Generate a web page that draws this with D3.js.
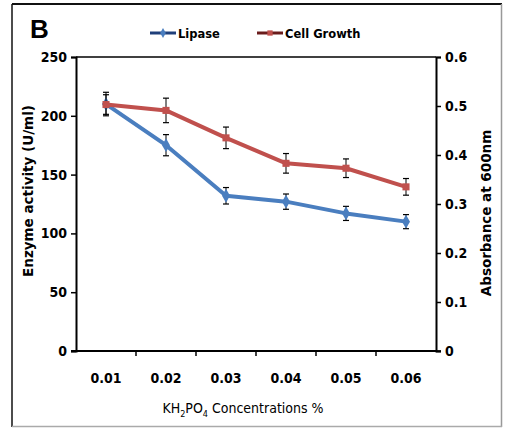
<!DOCTYPE html>
<html>
<head>
<meta charset="utf-8">
<script src="https://cdn.jsdelivr.net/npm/d3@7"></script>
<style>
  body { margin: 0; background: white; }
</style>
</head>
<body>
<div id="container"></div>
<script>
let w = 505;
let h = 428;

// DATA
let concentrations = ["0.01", "0.02", "0.03", "0.04", "0.05", "0.06"];
let lipase = [210, 175, 132, 127, 117, 110];
let lipaseErr = [10, 9, 7, 6.5, 6, 6];
let growth = [0.503, 0.491, 0.435, 0.383, 0.373, 0.335];
let growthErr = [0.02, 0.025, 0.022, 0.02, 0.019, 0.017];
let leftTicks = [0, 50, 100, 150, 200, 250];
let rightTicks = [0, 0.1, 0.2, 0.3, 0.4, 0.5, 0.6];

let m = {left: 76, right: 436, top: 57, bottom: 351};
let tickFont = "'DejaVu Sans Condensed', 'Liberation Sans Narrow', 'Liberation Sans', sans-serif";
let titleFont = "'DejaVu Sans', Verdana, sans-serif";

let viz = d3.select("#container").append("svg")
    .attr("width", w)
    .attr("height", h)
    .style("display", "block");

// frame
viz.append("line").attr("x1", 12).attr("x2", 502).attr("y1", 4).attr("y2", 4).attr("stroke", "#111").attr("stroke-width", 2);
viz.append("line").attr("x1", 12).attr("x2", 12).attr("y1", 4).attr("y2", 427).attr("stroke", "#111").attr("stroke-width", 1.5);
viz.append("line").attr("x1", 501.5).attr("x2", 501.5).attr("y1", 4).attr("y2", 427).attr("stroke", "#999").attr("stroke-width", 1.5);
viz.append("line").attr("x1", 12).attr("x2", 502).attr("y1", 426.5).attr("y2", 426.5).attr("stroke", "#aaa").attr("stroke-width", 1.5);

// SCALES
let x = d3.scaleBand().domain(concentrations).range([m.left, m.right]);
let yL = d3.scaleLinear().domain([0, 250]).range([m.bottom, m.top]);
let yR = d3.scaleLinear().domain([0, 0.6]).range([m.bottom, m.top]);
let cx = d => x(d) + x.bandwidth() / 2;

// plot top border
viz.append("line").attr("x1", m.left).attr("x2", m.right).attr("y1", m.top).attr("y2", m.top).attr("stroke", "black").attr("stroke-width", 1.5);

// AXES
let leftAxis = viz.append("g").attr("transform", `translate(${m.left},0)`)
    .call(d3.axisLeft(yL).tickValues(leftTicks).tickSize(5).tickPadding(4));
let rightAxis = viz.append("g").attr("transform", `translate(${m.right},0)`)
    .call(d3.axisRight(yR).tickValues(rightTicks).tickSize(5).tickPadding(4).tickFormat(d => d === 0 ? "0" : d3.format(".1f")(d)));
let bottomAxis = viz.append("g").attr("transform", `translate(0,${m.bottom})`)
    .call(d3.axisBottom(x).tickSize(0).tickPadding(22));
// boundary ticks on x
bottomAxis.selectAll(".bound").data(concentrations.slice(1)).enter()
    .append("line").attr("class", "bound")
    .attr("x1", d => x(d)).attr("x2", d => x(d)).attr("y1", 0).attr("y2", 5)
    .attr("stroke", "black").attr("stroke-width", 1.5);
bottomAxis.append("line").attr("x1", m.right).attr("x2", m.right + 5).attr("y1", 0).attr("y2", 0).attr("stroke", "black").attr("stroke-width", 1.5);

[leftAxis, rightAxis, bottomAxis].forEach(g => {
  g.select(".domain").attr("stroke-width", 2).attr("stroke", "black");
  g.selectAll(".tick line").attr("stroke-width", 1.5);
  g.selectAll("text").style("font-family", tickFont).style("font-weight", "bold").style("font-size", "14px").attr("fill", "black");
});
bottomAxis.select(".domain").attr("d", `M${m.left - 5},0H${m.right}`);

// ERROR BARS + LINES
function series(vals, errs, scale, color, marker) {
  let g = viz.append("g");
  let line = d3.line().x((d, i) => cx(concentrations[i])).y(d => scale(d));
  g.append("path").datum(vals).attr("d", line).attr("fill", "none").attr("stroke", color).attr("stroke-width", 4).attr("stroke-linejoin", "round");
  let eb = g.selectAll(".eb").data(vals).enter().append("g");
  eb.append("line").attr("x1", (d, i) => cx(concentrations[i])).attr("x2", (d, i) => cx(concentrations[i]))
      .attr("y1", (d, i) => scale(d - errs[i])).attr("y2", (d, i) => scale(d + errs[i])).attr("stroke", "black").attr("stroke-width", 1);
  [-1, 1].forEach(s => {
    eb.append("line").attr("x1", (d, i) => cx(concentrations[i]) - 3).attr("x2", (d, i) => cx(concentrations[i]) + 3)
        .attr("y1", (d, i) => scale(d + s * errs[i])).attr("y2", (d, i) => scale(d + s * errs[i])).attr("stroke", "black").attr("stroke-width", 1.2);
  });
  g.selectAll(".mk").data(vals).enter().append("path")
      .attr("d", d3.symbol().type(marker).size(marker === d3.symbolDiamond ? 55 : 50))
      .attr("transform", (d, i) => `translate(${cx(concentrations[i])},${scale(d)})`)
      .attr("fill", color);
}
series(lipase, lipaseErr, yL, "#4a7ebf", d3.symbolDiamond);
series(growth, growthErr, yR, "#c0504d", d3.symbolSquare);

// LEGEND
let legend = [
  {name: "Lipase", line: "#1f3f7a", fill: "#4a7ebf", marker: d3.symbolDiamond, x: 150},
  {name: "Cell Growth", line: "#6a1c1c", fill: "#c0504d", marker: d3.symbolSquare, x: 257}
];
let lg = viz.selectAll(".lg").data(legend).enter().append("g").attr("transform", d => `translate(${d.x},33)`);
lg.append("line").attr("x1", 0).attr("x2", 26).attr("stroke", d => d.line).attr("stroke-width", 3);
lg.append("path").attr("d", d => d3.symbol().type(d.marker).size(28)()).attr("transform", "translate(13,0)").attr("fill", d => d.fill);
lg.append("text").attr("x", 28).attr("y", 4.5).text(d => d.name)
    .style("font-family", titleFont).style("font-weight", "bold").style("font-size", "11.5px");

// TITLES
viz.append("text").attr("x", 30).attr("y", 38).text("B")
    .style("font-family", "'Liberation Sans', Arial, sans-serif").style("font-weight", "bold").style("font-size", "26px");
viz.append("text").attr("transform", "translate(33,191) rotate(-90)").attr("text-anchor", "middle")
    .text("Enzyme activity (U/ml)")
    .style("font-family", titleFont).style("font-weight", "bold").style("font-size", "13.5px");
viz.append("text").attr("transform", "translate(491,213) rotate(-90)").attr("text-anchor", "middle")
    .text("Absorbance at 600nm")
    .style("font-family", titleFont).style("font-weight", "bold").style("font-size", "13.5px");
let xt = viz.append("text").attr("x", 243).attr("y", 413).attr("text-anchor", "middle")
    .style("font-family", tickFont).style("font-size", "14px").attr("fill", "black");
xt.append("tspan").text("KH");
xt.append("tspan").text("2").attr("dy", 4).style("font-size", "9px");
xt.append("tspan").text("PO").attr("dy", -4);
xt.append("tspan").text("4").attr("dy", 4).style("font-size", "9px");
xt.append("tspan").text(" Concentrations %").attr("dy", -4);
</script>
</body>
</html>
